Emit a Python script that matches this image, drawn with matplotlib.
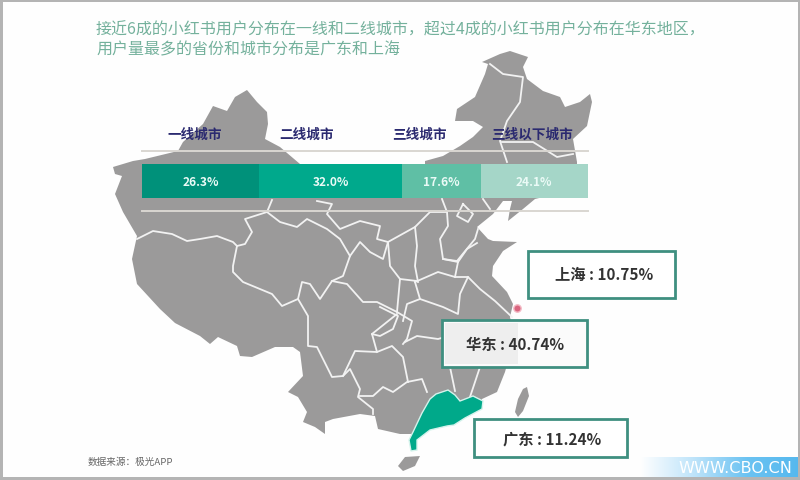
import numpy as np
import matplotlib
matplotlib.use('Agg')
import matplotlib.pyplot as plt
from matplotlib.patches import Polygon, Rectangle

plt.rcParams['font.family'] = ['Noto Sans CJK SC', 'DejaVu Sans']

tiers = ['一线城市', '二线城市', '三线城市', '三线以下城市']
shares = [26.3, 32.0, 17.6, 24.1]
tier_colors = ['#00917a', '#00a98c', '#5fbfa5', '#a5d6c8']
tier_label_x = [195, 307, 419, 532]

title_lines = ['接近6成的小红书用户分布在一线和二线城市，超过4成的小红书用户分布在华东地区，',
               '用户量最多的省份和城市分布是广东和上海']
callouts = ['上海 : 10.75%', '华东 : 40.74%', '广东 : 11.24%']
source = '数据来源：极光APP'
watermark = 'WWW.CBO.CN'

china = [(113,168),(133,162),(145,160),(178,152),(183,143),(203,125),(213,107),(227,112),(235,98),(247,91),
         (257,103),(267,113),(268,125),(265,140),(280,148),(300,165),(300,180),(425,180),(425,162),(443,157),
         (460,147),(473,138),(483,128),(473,122),(455,122),(457,110),(475,98),(485,75),(488,65),(482,63),
         (500,55),(510,52),(528,58),(523,68),(527,80),(543,92),(560,98),(565,108),(580,103),(590,95),
         (592,103),(587,127),(573,140),(577,163),(577,190),(535,200),(523,210),(508,222),(510,210),(512,202),
         (503,202),(493,215),(477,228),(488,240),(493,242),(517,243),(503,252),(493,267),(492,277),(507,293),
         (513,305),(510,318),(514,335),(510,355),(505,373),(497,393),(482,400),(482,407),(463,418),(447,425),
         (430,422),(413,437),(412,435),(400,435),(378,430),(375,417),(360,415),(333,420),(325,423),(325,435),
         (315,428),(303,423),(307,413),(298,398),(288,393),(303,377),(300,353),(293,348),(275,348),(252,358),
         (240,357),(237,347),(218,338),(210,345),(200,337),(175,324),(160,310),(137,285),(132,260),(137,237),
         (123,213),(115,195),(122,177),(115,175)]
taiwan = [(527,388),(529,397),(523,412),(518,418),(515,413),(518,400),(523,390)]
hainan = [(420,457),(415,467),(403,472),(398,467),(405,458)]
guangdong = [(483,402),(482,410),(465,419),(454,426),(447,427),(430,431),(417,441),(417,451),(411,452),(409,441),
             (413,433),(422,414),(430,400),(436,395),(448,391),(455,396),(460,402),(473,397)]
borders = [
 [(137,240),(153,232),(172,235),(187,242),(200,240),(217,237),(233,243),(237,247),(245,245),(252,233),(245,220),(267,213),(272,201)],
 [(267,213),(280,223),(297,228),(307,220),(327,230),(340,240),(350,257),(343,277),(332,282)],
 [(317,202),(332,205),(327,215),(340,230),(360,222),(380,227),(377,240),(388,243),(383,260),(370,253),(360,243),(350,257)],
 [(237,247),(233,267),(233,273),(243,283),(272,295),(282,307),(298,300),(302,283),(310,285),(320,300),(332,282),(347,285),(363,303),(377,303),(397,313),(412,322),(407,340),(403,345)],
 [(298,300),(308,317),(308,347),(317,348),(332,378),(343,377),(355,352),(377,353),(372,335),(397,315)],
 [(343,377),(350,370),(360,390),(358,398),(373,410),(373,415)],
 [(360,397),(373,397),(383,388),(393,393),(407,383),(422,380),(427,393)],
 [(377,353),(392,347),(403,358),(408,383)],
 [(405,343),(417,337),(438,340),(445,338)],
 [(450,368),(455,392)],
 [(480,368),(470,398)],
 [(380,308),(398,317),(393,330),(380,337),(372,335)],
 [(415,283),(438,273),(455,278),(468,278),(480,290),(495,302),(512,318)],
 [(415,283),(420,300),(407,305),(403,322)],
 [(420,300),(443,308),(458,315),(460,295),(468,278)],
 [(455,278),(458,263),(467,250),(477,244)],
 [(443,260),(458,263)],
 [(442,200),(447,213),(448,227),(440,240),(443,260),(457,262),(475,240),(478,230)],
 [(447,213),(430,213),(415,228),(417,247),(415,267),(418,283)],
 [(463,205),(457,217),(468,223),(473,215),(463,205)],
 [(483,200),(490,210)],
 [(388,243),(415,228)],
 [(388,243),(390,267),(400,280),(397,313)],
 [(400,280),(417,282)],
 [(490,65),(503,75),(523,78),(520,103),(507,122),(500,142),(507,163)],
 [(502,143),(533,143),(557,158),(573,155)],
]

fig = plt.figure(figsize=(8, 4.81), dpi=100, facecolor='#fefefe')
ax = fig.add_axes([0, 0, 1, 1])
ax.set_xlim(0, 800); ax.set_ylim(481, 0); ax.axis('off')

MAP = '#9b9a9a'
for shape in (china, taiwan, hainan):
    ax.add_patch(Polygon(shape, closed=True, fc=MAP, ec='none', zorder=1))
for line in borders:
    xs, ys = zip(*line)
    ax.plot(xs, ys, color='#f2f2f2', lw=1.3, zorder=2, solid_joinstyle='round')
ax.add_patch(Polygon(guangdong, closed=True, fc='#00a98a', ec='#d5f3ec', lw=1, zorder=3))

for y in (152, 212):
    ax.plot([142, 588], [y, y], color='#d9d6d1', lw=1.4, zorder=3)

ax.scatter([517], [309], s=28, color='#d9657f', edgecolors='#f3b9c4', lw=1, zorder=3)

for x, name in zip(tier_label_x, tiers):
    ax.text(x, 135, name, ha='center', va='center', fontsize=9.8, fontweight='bold', color='#2b2a70', zorder=5)

for i, line in enumerate(title_lines):
    ax.text(96, 30 + i * 19.5, line, ha='left', va='center', fontsize=11.5, color='#74b19c', zorder=5)

boxes = [(528, 252, 147, 47, '#ffffff'), (442, 321, 145, 47, '#fbfbfb'), (474, 420, 153, 38, '#ffffff')]
text_centres = [(604, 275), (515, 345), (552, 439)]
for (x, y, w, h, fc), (tx, ty), label in zip(boxes, text_centres, callouts):
    ax.add_patch(Rectangle((x, y), w, h, fc=fc, ec='#3f8f80', lw=2, zorder=6))
    ax.text(tx, ty, label, ha='center', va='center', fontsize=11, fontweight='bold', color='#333333', zorder=8)
ax.add_patch(Rectangle((445, 324), 73, 41, fc='#eeeeee', ec='none', zorder=7))

ax.text(88, 462, source, ha='left', va='center', fontsize=6.9, color='#666666', zorder=5)

grad = np.linspace(0, 1, 256).reshape(1, -1)
cmap = matplotlib.colors.LinearSegmentedColormap.from_list('wm', ['#ffffff', '#bfe4fa', '#6cc3f2', '#55b8ee'])
ax.imshow(grad, extent=(640, 800, 478, 458), aspect='auto', cmap=cmap, zorder=8)
ax.set_xlim(0, 800); ax.set_ylim(481, 0)
ax.text(735, 469, watermark, ha='center', va='center', fontsize=11.6, color='white', zorder=9,
        family=['DejaVu Sans'])

for r in [(0, 0, 800, 3), (0, 478, 800, 3), (0, 0, 2.5, 481), (797.5, 0, 2.5, 481)]:
    ax.add_patch(Rectangle(r[:2], r[2], r[3], fc='#b4b4b4', ec='none', zorder=10))

bar_ax = fig.add_axes([142 / 800, 1 - 199 / 481, 446 / 800, 34 / 481], zorder=4)
bar_ax.set_xlim(0, 100); bar_ax.set_ylim(-0.5, 0.5); bar_ax.axis('off')
left = 0
for val, col in zip(shares, tier_colors):
    bar_ax.barh(0, val, left=left, height=1, color=col, edgecolor='none')
    bar_ax.text(left + val / 2, 0, f'{val:.1f}%', ha='center', va='center', fontsize=8.6,
                fontweight='bold', color='#eafaf6')
    left += val

fig.savefig('out.png', dpi=100, facecolor=fig.get_facecolor())
